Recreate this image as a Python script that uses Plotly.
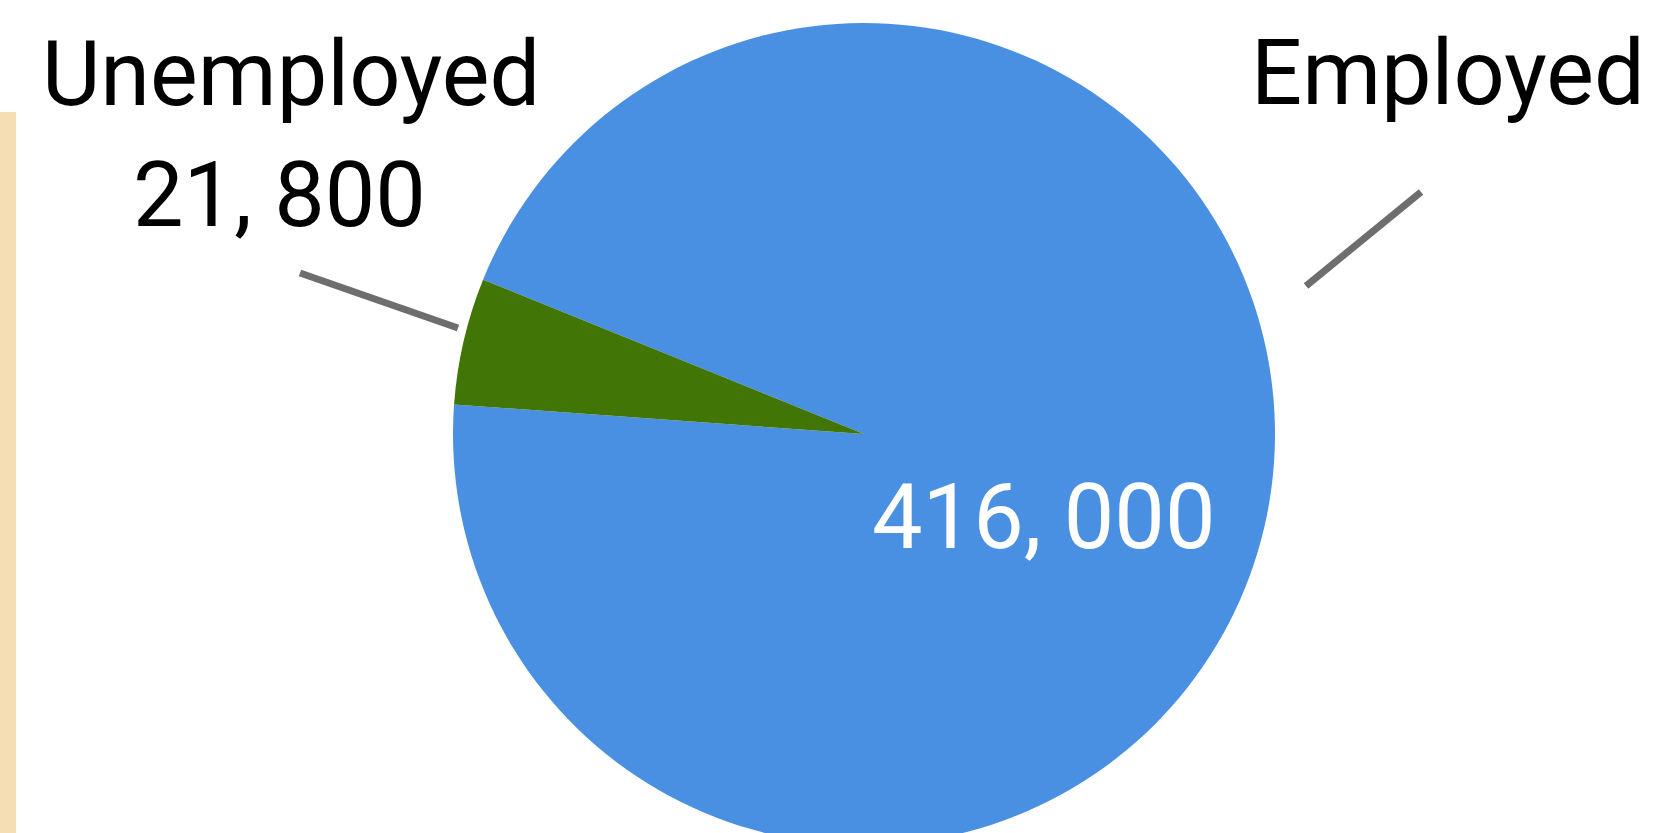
import plotly.graph_objects as go

# ---- data ----
categories = ["Employed", "Unemployed"]
values = [416000, 21800]
colors = ["#4A90E2", "#417505"]

def fmt(v):
    return f"{v:,}".replace(",", ", ")

value_text = [fmt(v) for v in values]

W, H = 1676, 868
FONT = "Roboto"
FS = 90

def px(x, y):
    return x / W, 1 - y / H

fig = go.Figure()
fig.add_trace(go.Pie(
    labels=categories,
    values=values,
    textinfo="none",
    marker=dict(colors=colors, line=dict(width=0)),
    sort=False,
    direction="clockwise",
    rotation=-67.95,
    hoverinfo="skip",
    showlegend=False,
    domain=dict(x=[(864 - 411) / W, (864 + 411) / W], y=[1 - 845 / H, 1 - 23 / H]),
))

shapes = []
# beige side strip
x0, y0 = px(0, 112)
x1, y1 = px(16, H)
shapes.append(dict(type="rect", xref="paper", yref="paper", x0=x0, y0=y1, x1=x1, y1=y0,
                   fillcolor="#F5DEB3", line=dict(width=0), layer="below"))
# leader lines
for (ax, ay), (bx, by) in [((300, 273), (458, 328)), ((1306, 286), (1421, 192))]:
    a = px(ax, ay)
    b = px(bx, by)
    shapes.append(dict(type="line", xref="paper", yref="paper", x0=a[0], y0=a[1], x1=b[0], y1=b[1],
                       line=dict(color="#6E6E6E", width=7)))

def label(text, cx, cy, color="black"):
    x, y = px(cx, cy)
    return dict(text=text, x=x, y=y, xref="paper", yref="paper",
                xanchor="center", yanchor="middle", showarrow=False,
                font=dict(family=FONT, size=FS, color=color))

annotations = [
    label(categories[1], 291, 74),
    label(value_text[1], 279, 195),
    label(categories[0], 1448, 73),
    label(value_text[0], 1044, 517, color="white"),
]

fig.update_layout(
    width=W, height=H,
    margin=dict(l=0, r=0, t=0, b=0),
    paper_bgcolor="white",
    plot_bgcolor="white",
    shapes=shapes,
    annotations=annotations,
    font=dict(family=FONT),
)

fig.write_html("out.html", config={"displayModeBar": False},
               post_script="document.body.style.margin='0';document.body.style.overflow='hidden';")
